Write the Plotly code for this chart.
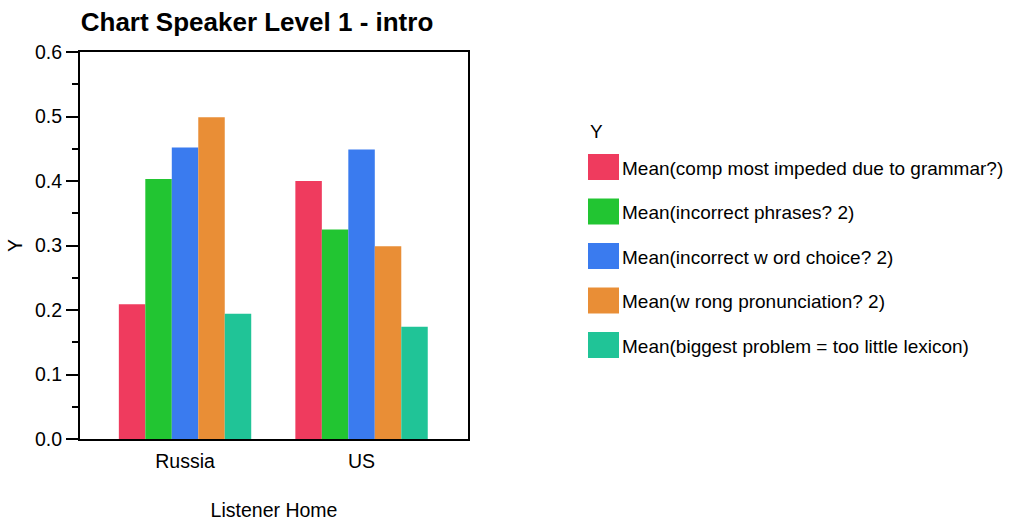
import plotly.graph_objects as go

W, H = 1018, 523

categories = ["Russia", "US"]
series_names = [
    "Mean(comp most impeded due to grammar?)",
    "Mean(incorrect phrases? 2)",
    "Mean(incorrect w ord choice? 2)",
    "Mean(w rong pronunciation? 2)",
    "Mean(biggest problem = too little lexicon)",
]
grammar = [0.209, 0.400]
phrases = [0.403, 0.325]
word_choice = [0.452, 0.449]
pronunciation = [0.499, 0.299]
lexicon = [0.194, 0.174]
series_values = [grammar, phrases, word_choice, pronunciation, lexicon]
colors = ["#EF3B5E", "#22C532", "#3A7BEF", "#E98E36", "#20C497"]
y_ticks = [0.0, 0.1, 0.2, 0.3, 0.4, 0.5, 0.6]

FONT = "Liberation Sans, Arial, sans-serif"

fig = go.Figure()
for name, vals, col in zip(series_names, series_values, colors):
    fig.add_trace(go.Bar(x=categories, y=vals, name=name, marker=dict(color=col, line=dict(width=0)),
                         showlegend=False))

# plot area in pixels
L, R, T, B = 80, 468, 52, 439
fig.update_layout(
    width=W, height=H,
    margin=dict(l=L, r=W - R, t=T, b=H - B, pad=0, autoexpand=False),
    paper_bgcolor="white", plot_bgcolor="white",
    barmode="group", bargap=0.25, bargroupgap=0,
    font=dict(family=FONT, size=19.5, color="black"),
    title=dict(text="<b>Chart Speaker Level 1 - intro</b>", x=257 / W, xref="container", xanchor="center",
               y=1 - 22 / H, yref="container", yanchor="middle",
               font=dict(family=FONT, size=26, color="black"), automargin=False),
)
fig.update_xaxes(
    type="category", range=[-0.595, 1.603], automargin=False,
    showline=True, linecolor="black", linewidth=2, mirror=True,
    showgrid=False, ticks="", ticklabelstandoff=4,
    title=dict(text="Listener Home", standoff=32, font=dict(size=19.5)),
)
fig.update_yaxes(
    range=[0, 0.6], tickvals=y_ticks, tickformat=".1f", automargin=False,
    showline=True, linecolor="black", linewidth=2, mirror=True,
    showgrid=False, zeroline=False,
    ticks="outside", ticklen=12, tickwidth=1.5, tickcolor="black",
    minor=dict(dtick=0.05, ticks="outside", ticklen=6, tickwidth=1.5, tickcolor="black", showgrid=False),
    title=dict(text="Y", standoff=7, font=dict(size=19.5)),
)

# legend drawn in paper space
sw_x0, sw_x1 = 588, 619
row_y = [167, 211.5, 256, 300.5, 345]
sw_h = 26
def px_x(p):
    return (p - L) / (R - L)
def px_y(p):
    return (B - p) / (B - T)

fig.add_annotation(text="Y", x=px_x(588), y=px_y(131), xref="paper", yref="paper",
                   xanchor="left", yanchor="middle", showarrow=False, font=dict(size=19))
for name, col, yc in zip(series_names, colors, row_y):
    fig.add_shape(type="rect", xref="paper", yref="paper",
                  x0=px_x(sw_x0), x1=px_x(sw_x1), y0=px_y(yc - sw_h / 2), y1=px_y(yc + sw_h / 2),
                  fillcolor=col, line=dict(width=0))
    fig.add_annotation(text=name, x=px_x(620), y=px_y(yc + 1), xref="paper", yref="paper",
                       xanchor="left", yanchor="middle", showarrow=False, font=dict(size=19))

fig.write_html("out.html", config={"displayModeBar": False},
               post_script="document.body.style.margin='0';document.body.style.overflow='hidden';")
